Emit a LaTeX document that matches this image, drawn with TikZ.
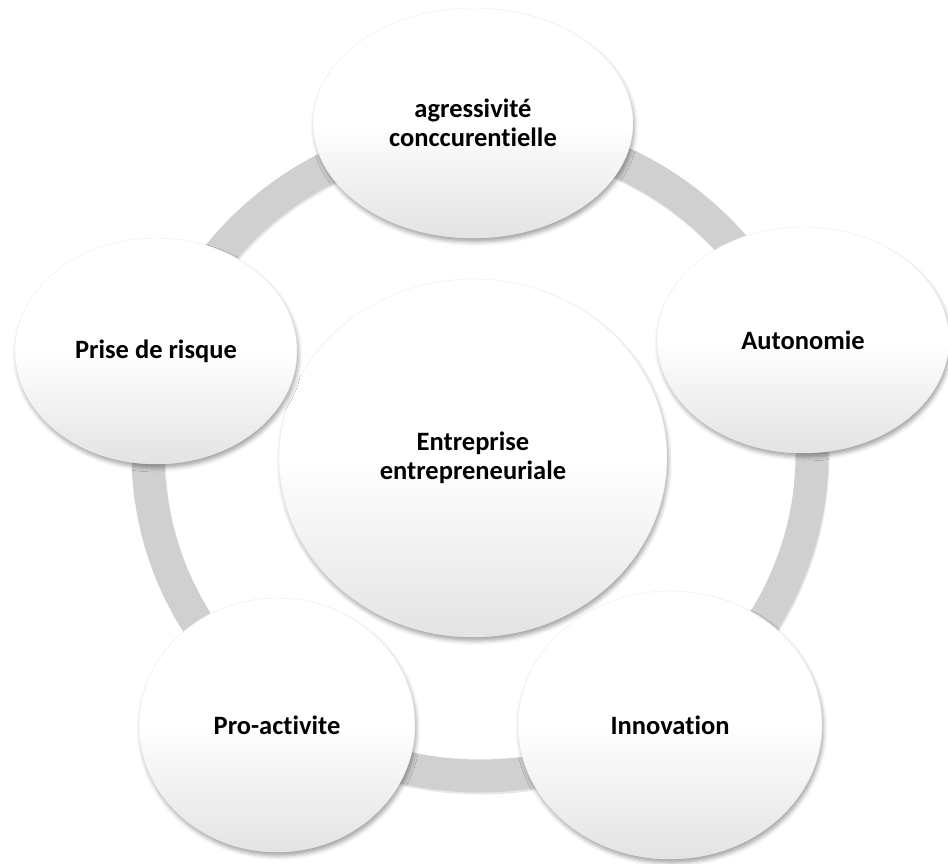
\documentclass[tikz,border=0pt]{standalone}
\usepackage{fontspec}
\setmainfont{Carlito}[Ligatures={NoCommon,NoDiscretionary,NoContextual}]
\usetikzlibrary{shapes.geometric,shadows,shadows.blur}
\definecolor{ringgray}{RGB}{208,208,208}
\begin{document}
\begin{tikzpicture}[x=1pt,y=-1pt,
  bubble/.style={ellipse, inner sep=0pt, align=center,
    font=\fontsize{26.5}{28.5}\selectfont\bfseries,
    top color=white, bottom color=black!11, middle color=white,
    draw=black!7, line width=0.4pt,
    blur shadow={shadow xshift=1.5pt, shadow yshift=-4pt, shadow blur radius=4pt, shadow opacity=35}},
  ringshadow/.style={line width=33pt, black!30, opacity=0.3},
  ringband/.style={line width=33pt, ringgray}
]
\useasboundingbox (0,0) rectangle (948,864);
% ring
\draw[ringshadow] (481,456) ellipse [x radius=332pt, y radius=322pt];
\draw[ringband] (480,454) ellipse [x radius=332pt, y radius=322pt];
% centre
\node[bubble, minimum width=388pt, minimum height=358pt] (center) at (473,458) {Entreprise\\entrepreneuriale};
% outer nodes
\node[bubble, minimum width=320pt, minimum height=230pt] (agr) at (473,123) {agressivité\\conccurentielle};
\node[bubble, minimum width=292pt, minimum height=226pt] (auto) at (803,340) {Autonomie};
\node[bubble, minimum width=282pt, minimum height=226pt] (risk) at (156,351) {Prise de risque};
\node[bubble, minimum width=276pt, minimum height=254pt] (pro) at (277,725) {Pro-activite};
\node[bubble, minimum width=304pt, minimum height=268pt] (inno) at (670,725) {Innovation};
\end{tikzpicture}
\end{document}
